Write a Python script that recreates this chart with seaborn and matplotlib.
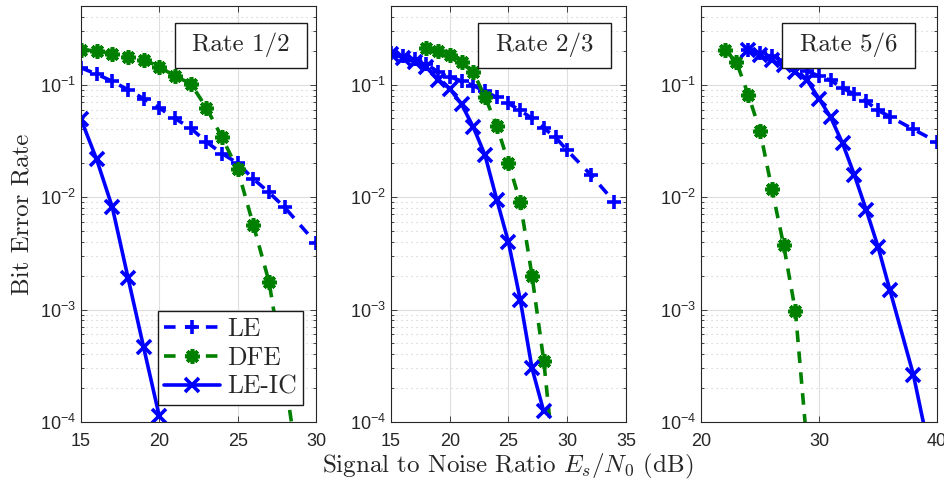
import pandas as pd
import matplotlib.pyplot as plt
import seaborn as sns
from matplotlib.patches import Rectangle

# Rate 1/2
snr_le_r12 = [15, 16, 17, 18, 19, 20, 21, 22, 23, 24, 25, 26, 27, 28, 30]
ber_le_r12 = [0.141, 0.124, 0.107, 0.090, 0.075, 0.062, 0.050, 0.041, 0.031,
              0.0244, 0.020, 0.0145, 0.011, 0.0081, 0.0039]
snr_dfe_r12 = [15, 16, 17, 18, 19, 20, 21, 22, 23, 24, 25, 26, 27, 28, 29]
ber_dfe_r12 = [0.205, 0.199, 0.188, 0.176, 0.167, 0.144, 0.119, 0.102, 0.0625,
               0.0339, 0.0176, 0.00564, 0.00177, 2.5e-4, 3e-5]
snr_leic_r12 = [15, 16, 17, 18, 19, 20]
ber_leic_r12 = [0.0492, 0.0216, 0.0081, 0.00192, 0.00046, 0.000112]

# Rate 2/3
snr_le_r23 = [15, 16, 17, 18, 19, 20, 21, 22, 23, 24, 25, 26, 27, 28, 29, 30, 32, 34]
ber_le_r23 = [0.19, 0.18, 0.168, 0.152, 0.13, 0.117, 0.108, 0.098, 0.087, 0.077,
              0.068, 0.059, 0.050, 0.041, 0.034, 0.026, 0.0158, 0.0091]
snr_dfe_r23 = [18, 19, 20, 21, 22, 23, 24, 25, 26, 27, 28, 29]
ber_dfe_r23 = [0.21, 0.197, 0.182, 0.158, 0.129, 0.078, 0.043, 0.0201, 0.009,
               0.002, 0.00035, 3.3e-5]
snr_leic_r23 = [15, 16, 17, 18, 19, 20, 21, 22, 23, 24, 25, 26, 27, 28]
ber_leic_r23 = [0.188, 0.174, 0.159, 0.143, 0.111, 0.092, 0.067, 0.042, 0.0236,
                0.0095, 0.00396, 0.00122, 0.000301, 0.000124]

# Rate 5/6
snr_le_r56 = [24, 25, 26, 27, 28, 29, 30, 31, 32, 33, 34, 35, 36, 38, 40]
ber_le_r56 = [0.202, 0.191, 0.178, 0.165, 0.148, 0.132, 0.119, 0.109, 0.093,
              0.082, 0.071, 0.059, 0.052, 0.040, 0.031]
snr_dfe_r56 = [22, 23, 24, 25, 26, 27, 28, 29]
ber_dfe_r56 = [0.205, 0.159, 0.0815, 0.0388, 0.0119, 0.00375, 0.00097, 6e-5]
snr_leic_r56 = [24, 25, 26, 27, 28, 29, 30, 31, 32, 33, 34, 35, 36, 38, 40]
ber_leic_r56 = [0.202, 0.182, 0.164, 0.148, 0.129, 0.109, 0.075, 0.051, 0.030,
                0.0157, 0.0077, 0.00362, 0.0015, 0.000263, 2.6e-5]

rate_labels = ['Rate 1/2', 'Rate 2/3', 'Rate 5/6']
xlims = [(15, 30), (15, 35), (20, 40)]
xticks = [[15, 20, 25, 30], [15, 20, 25, 30, 35], [20, 30, 40]]

panels = [
    {'LE': (snr_le_r12, ber_le_r12), 'DFE': (snr_dfe_r12, ber_dfe_r12),
     'LE-IC': (snr_leic_r12, ber_leic_r12)},
    {'LE': (snr_le_r23, ber_le_r23), 'DFE': (snr_dfe_r23, ber_dfe_r23),
     'LE-IC': (snr_leic_r23, ber_leic_r23)},
    {'LE': (snr_le_r56, ber_le_r56), 'DFE': (snr_dfe_r56, ber_dfe_r56),
     'LE-IC': (snr_leic_r56, ber_leic_r56)},
]

sns.set_style('ticks')
plt.rcParams['font.family'] = ['Liberation Sans', 'DejaVu Sans']
plt.rcParams['mathtext.fontset'] = 'cm'
plt.rcParams['lines.scale_dashes'] = True

blue = '#0000ff'
green = '#008000'
dash = (0, (3.2, 2.6))
styles = {
    'LE': dict(color=blue, markeredgecolor=blue, linestyle=dash, marker='+',
               markersize=10),
    'DFE': dict(color=green, markeredgecolor=green, markerfacecolor=green,
                linestyle=dash, marker=(8, 2, 0), markersize=10.5),
    'LE-IC': dict(color=blue, markeredgecolor=blue, linestyle='-', marker='x',
                  markersize=9.5),
}

dark = '#262626'
serif = 'cmr10'
fs = 18

fig = plt.figure(figsize=(9.45, 4.83), dpi=100)
lefts = [81, 391, 701]
widths = [235, 235, 236]
box_x = [(0.40, 0.962), (0.371, 0.935), (0.344, 0.907)]

for i in range(3):
    ax = fig.add_axes([lefts[i] / 945, 61 / 483, widths[i] / 945, 416 / 483])
    for name in ['LE', 'DFE', 'LE-IC']:
        x, y = panels[i][name]
        df = pd.DataFrame({'snr': x, 'ber': y})
        sns.lineplot(data=df, x='snr', y='ber', ax=ax, label=name,
                     linewidth=2.6, markeredgewidth=2.6, **styles[name])
    ax.set_yscale('log')
    ax.set_ylim(1e-4, 0.5)
    ax.set_xlim(*xlims[i])
    ax.set_xticks(xticks[i])
    ax.grid(True, which='major', color='#dedede', linewidth=0.8, linestyle='-')
    ax.grid(True, which='minor', axis='y', color='#cccccc', linewidth=0.8,
            linestyle=(0, (1, 3.5)))
    ax.set_axisbelow(True)
    for s in ax.spines.values():
        s.set_color(dark)
        s.set_linewidth(0.8)
        s.set_visible(True)
    ax.tick_params(which='both', direction='in', top=True, right=True,
                   colors=dark, labelsize=13, width=0.6)
    ax.tick_params(which='major', length=4)
    ax.tick_params(which='minor', length=2)
    ax.tick_params(axis='x', pad=8)
    ax.set_xlabel('')
    ax.set_ylabel('')

    x0, x1 = box_x[i]
    ax.add_patch(Rectangle((x0, 0.852), x1 - x0, 0.108, transform=ax.transAxes,
                           facecolor='white', edgecolor='#1a1a1a', linewidth=1.0,
                           zorder=5))
    ax.text((x0 + x1) / 2, 0.908, rate_labels[i], transform=ax.transAxes,
            ha='center', va='center', fontsize=fs, family=serif, zorder=6)

    if i == 0:
        ax.set_ylabel('Bit Error Rate', fontsize=fs, family=serif, labelpad=5)
        leg = ax.legend(loc='lower right', bbox_to_anchor=(0.945, 0.041),
                        borderaxespad=0, prop={'family': serif, 'size': 18.5},
                        handlelength=2.2, labelspacing=0.2, handletextpad=0.25,
                        borderpad=0.25, fancybox=False, framealpha=1)
        leg.get_frame().set_edgecolor('#1a1a1a')
        leg.get_frame().set_linewidth(1.0)
        leg.set_zorder(7)
    else:
        ax.get_legend().remove()

fig.text(508 / 945, 0.034, r'Signal to Noise Ratio $E_s/N_0$ (dB)', ha='center',
         va='center', fontsize=fs, family=serif, math_fontfamily='cm')

fig.savefig('out.png', dpi=100)
